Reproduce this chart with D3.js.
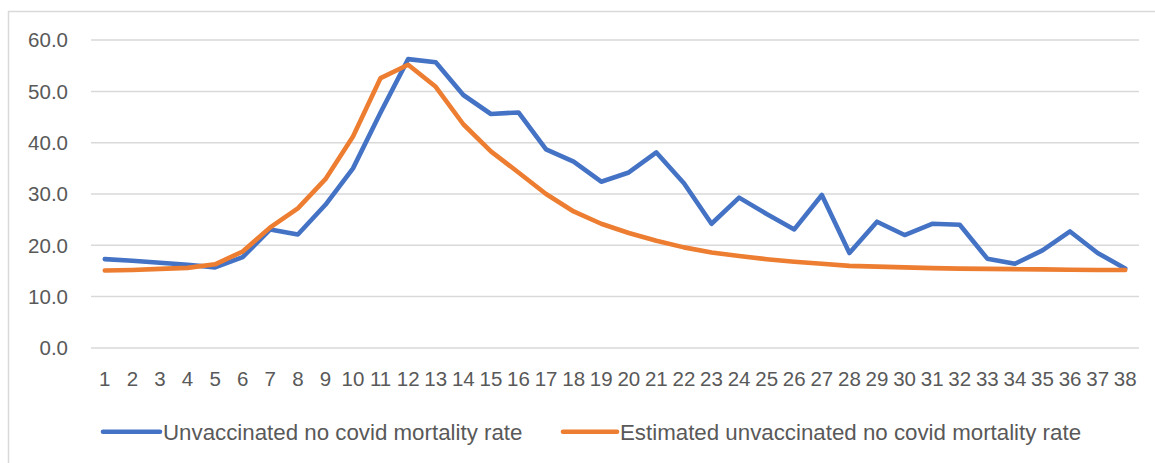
<!DOCTYPE html>
<html>
<head>
<meta charset="utf-8">
<script src="https://cdn.jsdelivr.net/npm/d3@7"></script>
<style>
  html, body { margin: 0; padding: 0; background: #fff; }
  svg { display: block; }
  text { font-family: "Liberation Sans", Arial, sans-serif; fill: #595959; }
</style>
</head>
<body>
<svg id="chart" width="1155" height="463"></svg>
<script>
// Week numbers along the x axis
const weeks = d3.range(1, 39).map(String);

// Observed mortality rate among unvaccinated, excluding covid deaths
const unvaccinatedRate = [
  17.2, 16.9, 16.5, 16.1, 15.6, 17.6, 23.0, 22.0, 27.8, 34.9,
  45.8, 56.2, 55.6, 49.2, 45.5, 45.8, 38.6, 36.2, 32.3, 34.1,
  38.0, 32.0, 24.1, 29.2, 26.0, 23.0, 29.7, 18.4, 24.5, 21.9,
  24.1, 23.9, 17.3, 16.3, 18.9, 22.6, 18.4, 15.4
];

// Modelled (estimated) rate for the same group
const estimatedRate = [
  15.0, 15.1, 15.3, 15.5, 16.2, 18.7, 23.4, 27.1, 32.8, 41.1,
  52.5, 55.1, 50.8, 43.5, 38.2, 34.1, 29.9, 26.5, 24.1, 22.3,
  20.8, 19.5, 18.5, 17.8, 17.2, 16.7, 16.3, 15.9, 15.75, 15.6,
  15.45, 15.35, 15.3, 15.25, 15.2, 15.15, 15.1, 15.1
];

const yTicks = [0, 10, 20, 30, 40, 50, 60];

const seriesNames = [
  "Unvaccinated no covid mortality rate",
  "Estimated unvaccinated no covid mortality rate"
];
const seriesColors = ["#4472C4", "#ED7D31"];

const svg = d3.select("#chart");

// Chart area frame (left and top edges)
svg.append("path")
  .attr("d", "M8.5,463 L8.5,11.5 L1155,11.5")
  .attr("fill", "none")
  .attr("stroke", "#D9D9D9")
  .attr("stroke-width", 1.5);

const plot = { left: 91, right: 1139, top: 39.6, bottom: 347.4 };

const x = d3.scaleBand()
  .domain(weeks)
  .range([plot.left, plot.right]);

const y = d3.scaleLinear()
  .domain([0, 60])
  .range([plot.bottom, plot.top]);

// Horizontal gridlines and y tick labels
const yAxis = d3.axisLeft(y)
  .tickValues(yTicks)
  .tickFormat(d3.format(".1f"))
  .tickSize(-(plot.right - plot.left))
  .tickPadding(23);

const gy = svg.append("g")
  .attr("transform", `translate(${plot.left},0)`)
  .call(yAxis);
gy.select(".domain").remove();
gy.selectAll(".tick line")
  .attr("stroke", "#D9D9D9")
  .attr("stroke-width", 1.5);
gy.selectAll(".tick text")
  .attr("fill", "#595959")
  .style("font-size", "20.5px")
  .attr("dy", "0.36em");

// Week labels
const xAxis = d3.axisBottom(x).tickSize(0).tickPadding(0);
const gx = svg.append("g")
  .attr("transform", `translate(0,${plot.bottom})`)
  .call(xAxis);
gx.select(".domain").remove();
gx.selectAll(".tick text")
  .attr("fill", "#595959")
  .style("font-size", "20.5px")
  .attr("dy", 0)
  .attr("y", 38.3);

// Series lines
const line = d3.line()
  .x((d, i) => x(weeks[i]) + x.bandwidth() / 2)
  .y(d => y(d));

[unvaccinatedRate, estimatedRate].forEach((values, k) => {
  svg.append("path")
    .datum(values)
    .attr("d", line)
    .attr("fill", "none")
    .attr("stroke", seriesColors[k])
    .attr("stroke-width", 4.6)
    .attr("stroke-linejoin", "round")
    .attr("stroke-linecap", "round");
});

// Legend
const legendY = 431.7;
const legendItems = [
  { x0: 103, x1: 160, tx: 163 },
  { x0: 563, x1: 617, tx: 620 }
];
legendItems.forEach((it, k) => {
  svg.append("line")
    .attr("x1", it.x0).attr("x2", it.x1)
    .attr("y1", legendY).attr("y2", legendY)
    .attr("stroke", seriesColors[k])
    .attr("stroke-width", 4.6)
    .attr("stroke-linecap", "round");
  svg.append("text")
    .attr("x", it.tx)
    .attr("y", legendY)
    .attr("dy", "0.36em")
    .style("font-size", "22.3px")
    .text(seriesNames[k]);
});
</script>
</body>
</html>
